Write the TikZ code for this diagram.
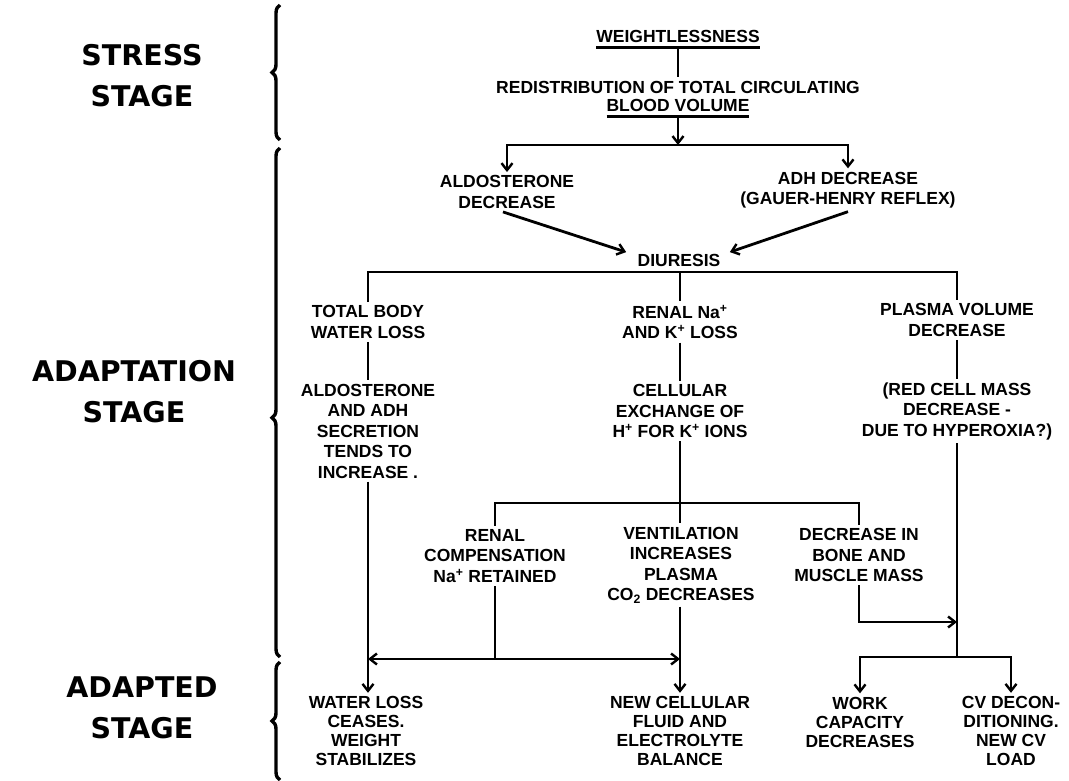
\documentclass[tikz,border=0pt]{standalone}
\usepackage{fontspec}
\setmainfont{Liberation Sans}
\newfontfamily\stagefont{DejaVu Sans}
\usetikzlibrary{arrows.meta,decorations.pathreplacing}
\begin{document}
\begin{tikzpicture}[x=1pt,y=-1pt,
  txt/.style={font=\bfseries\fontsize{17.5}{20.5}\selectfont, align=center, inner sep=0pt, outer sep=3.5pt},
  btxt/.style={txt, font=\bfseries\fontsize{17.5}{19}\selectfont},
  stage/.style={font=\stagefont\bfseries\fontsize{28.5}{41}\selectfont, align=center, inner sep=0pt},
  ln/.style={line width=2.8pt},
  tip/.tip={Straight Barb[length=7pt,width=11pt,line width=2.4pt]},
  arr/.style={ln, -tip},
  brc/.style={line width=3.4pt, decorate, decoration={brace, amplitude=8pt}}]
\useasboundingbox (0,0) rectangle (1069,781);

% stage labels and braces
\node[stage] (s1) at (142,76) {STRESS\\STAGE};
\node[stage] (s2) at (134,392) {ADAPTATION\\STAGE};
\node[stage] (s3) at (142,708) {ADAPTED\\STAGE};
\draw[brc] (280,140) -- (280,5);
\draw[brc, decoration={brace, amplitude=8pt, aspect=0.47}] (280,657) -- (280,148);
\draw[brc] (280,780) -- (280,662);

% top
\node[txt] (w) at (678,36) {WEIGHTLESSNESS};
\node[txt] (r) at (678,87) {REDISTRIBUTION OF TOTAL CIRCULATING};
\node[txt] (b) at (678,105) {BLOOD VOLUME};
\draw[ln] ([xshift=3.5pt,yshift=-1.5pt]w.south west) -- ([xshift=-3.5pt,yshift=-1.5pt]w.south east);
\draw[ln] ([xshift=3.5pt,yshift=-1.5pt]b.south west) -- ([xshift=-3.5pt,yshift=-1.5pt]b.south east);
\draw[ln] ([yshift=-1.5pt]w.south) -- (r.north);
\coordinate (t1) at (678,145);
\draw[arr] ([yshift=-1.5pt]b.south) -- (t1);

\node[txt] (al) at (507,192) {ALDOSTERONE\\DECREASE};
\node[txt] (adh) at (848,190) {ADH DECREASE\\(GAUER-HENRY REFLEX)};
\draw[arr] (t1) -| (al);
\draw[arr] (t1) -| (adh);

\node[txt] (di) at (679,260) {DIURESIS};
\draw[arr] ([xshift=-4pt]al.south) -- ([xshift=-8pt]di.170);
\draw[arr] (adh.south) -- ([xshift=6pt]di.10);

% second row
\coordinate (t2) at (680,272);
\node[txt] (tb) at (368,322) {TOTAL BODY\\WATER LOSS};
\node[txt] (rn) at (680,322) {RENAL Na\textsuperscript{+}\\AND K\textsuperscript{+} LOSS};
\node[txt] (pv) at (957,320) {PLASMA VOLUME\\DECREASE};
\draw[ln] (tb.north) |- (t2) -| (pv.north);
\draw[ln] (t2) -- (rn);

% third row
\node[txt] (ad) at (368,431) {ALDOSTERONE\\AND ADH\\SECRETION\\TENDS TO\\INCREASE .};
\node[txt] (ce) at (680,411) {CELLULAR\\EXCHANGE OF\\H\textsuperscript{+} FOR K\textsuperscript{+} IONS};
\node[txt] (rc) at (957,411) {(RED CELL MASS\\DECREASE -\\DUE TO HYPEROXIA?)};
\draw[ln] (tb) -- (ad);
\draw[ln] (rn) -- (ce);
\draw[ln] (pv) -- (rc);

% fourth row
\coordinate (t3) at (680,503);
\node[txt] (rr) at (495,556) {RENAL\\COMPENSATION\\Na\textsuperscript{+} RETAINED};
\node[txt] (ve) at (681,565) {VENTILATION\\INCREASES\\PLASMA\\CO\textsubscript{2} DECREASES};
\node[txt] (dm) at (859,555) {DECREASE IN\\BONE AND\\MUSCLE MASS};
\draw[ln] (ce) -- (t3);
\draw[ln] (rr.north) |- (t3) -| (dm.north);
\draw[ln] (t3) -- (ve.north -| t3);

% bottom row
\node[btxt] (wl) at (366,731) {WATER LOSS\\CEASES.\\WEIGHT\\STABILIZES};
\node[btxt] (nc) at (680,731) {NEW CELLULAR\\FLUID AND\\ELECTROLYTE\\BALANCE};
\node[btxt] (wc) at (860,722) {WORK\\CAPACITY\\DECREASES};
\node[btxt] (cv) at (1011,731) {CV DECON-\\DITIONING.\\NEW CV\\LOAD};

\coordinate (bl) at (368,659);
\coordinate (br) at (680,659);
\coordinate (j) at (957,622);
\coordinate (t4) at (957,657);
\draw[arr] (ad.south -| bl) -- (wl.north -| bl);
\draw[ln, tip-tip] (bl) -- (br);
\draw[ln] (rr) -- (rr |- bl);
\draw[arr] (ve.south -| br) -- (nc.north -| br);
\draw[arr] (dm.south) |- (j);
\draw[ln] (rc) -- (t4);
\draw[arr] (t4) -| (wc);
\draw[arr] (t4) -| (cv);
\end{tikzpicture}
\end{document}
